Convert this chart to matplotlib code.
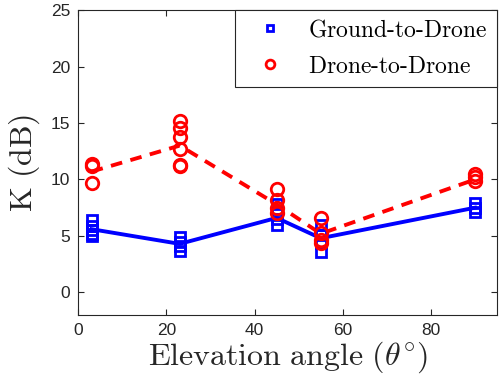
import matplotlib
matplotlib.use("Agg")
import matplotlib.pyplot as plt
import numpy as np

plt.rcParams['mathtext.fontset'] = 'cm'
plt.rcParams['font.family'] = ['Liberation Sans', 'DejaVu Sans']

angles = [3, 23, 45, 55, 90]

g2d_points = [
    [6.4, 5.9, 5.5, 5.2, 5.0],
    [4.9, 4.5, 4.1, 3.7],
    [7.8, 7.1, 6.5, 6.0],
    [6.0, 5.1, 4.4, 3.6],
    [7.9, 7.5, 7.1],
]
d2d_points = [
    [11.4, 11.2, 9.7],
    [15.2, 14.6, 13.8, 12.7, 11.3, 11.2],
    [9.2, 8.2, 7.5, 7.0],
    [6.6, 5.3, 4.6, 4.4],
    [10.5, 10.2, 9.9],
]
g2d_mean = [5.6, 4.3, 6.6, 4.8, 7.5]
d2d_mean = [10.7, 13.0, 7.8, 5.2, 10.0]

fig = plt.figure(figsize=(4.99, 3.87), dpi=100)
ax = fig.add_axes([0.157, 0.186, 0.839, 0.788])

ax.plot(angles, g2d_mean, color='#0000ff', lw=2.8, zorder=2)
ax.plot(angles, d2d_mean, color='#ff0000', lw=2.8, ls=(0, (3, 2.2)), zorder=2)

for i, a in enumerate(angles):
    ax.plot([a] * len(g2d_points[i]), g2d_points[i], ls='none', marker='s',
            mfc='none', mec='#0000ff', mew=2, ms=7, zorder=3,
            label='Ground-to-Drone' if i == 0 else None)
for i, a in enumerate(angles):
    ax.plot([a] * len(d2d_points[i]), d2d_points[i], ls='none', marker='o',
            mfc='none', mec='#ff0000', mew=2, ms=9, zorder=3,
            label='Drone-to-Drone' if i == 0 else None)

ax.set_xlim(0, 95)
ax.set_ylim(-2, 25)
ax.set_xticks([0, 20, 40, 60, 80])
ax.set_yticks([0, 5, 10, 15, 20, 25])
ax.tick_params(direction='in', top=True, right=True, labelsize=12.5,
               colors='#262626', length=4, width=0.8, pad=6)
for s in ax.spines.values():
    s.set_color('#262626')
    s.set_linewidth(0.8)

ax.set_xlabel(r'$\mathrm{Elevation\ angle\ }(\theta^{\circ})$', fontsize=23, color='#262626', labelpad=1)
ax.set_ylabel(r'$\mathrm{K\ (dB)}$', fontsize=23, color='#262626', labelpad=6)

leg = ax.legend(loc='upper right', prop={'size': 17},
                fancybox=False, edgecolor='#262626', framealpha=1,
                borderaxespad=0.0, handletextpad=0.5, borderpad=0.4,
                labelspacing=0.6, handlelength=2.2, markerscale=0.7)
leg.get_frame().set_linewidth(0.8)
for t in leg.get_texts():
    t.set_text(r'$\mathrm{' + t.get_text().replace('-', '\\text{-}') + '}$')

fig.savefig('out.png', dpi=100)
